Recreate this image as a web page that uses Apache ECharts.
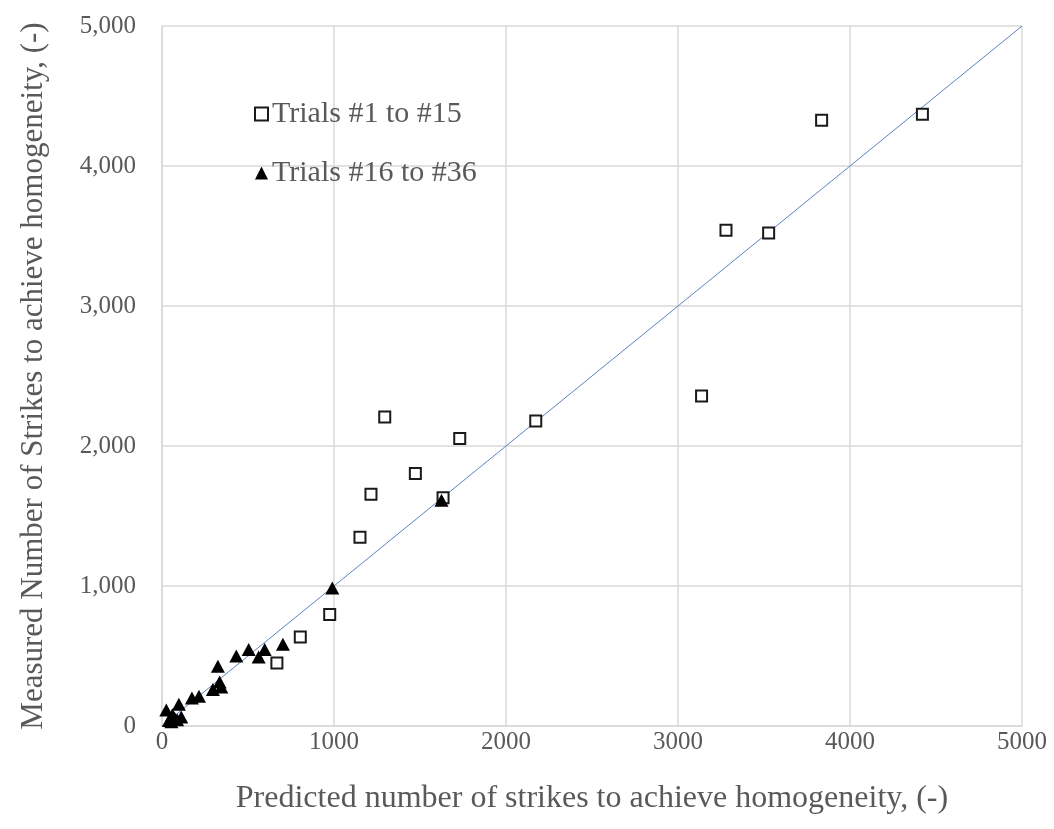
<!doctype html>
<html lang="en">
  <head>
    <meta charset="UTF-8" />
    <title>Strikes to achieve homogeneity</title>
    <script src="https://cdn.jsdelivr.net/npm/echarts@6/dist/echarts.min.js"></script>
    <style>
      html, body { margin: 0; padding: 0; background: #fff; }
      #chart { width: 1054px; height: 829px; }
    </style>
  </head>
  <body>
    <div id="chart"></div>
    <script>
      // Trials #1 to #15 : [predicted, measured]
      var trials1to15 = [
        [668, 450], [804, 636], [975, 796], [1151, 1348], [1215, 1655],
        [1295, 2207], [1473, 1803], [1634, 1631], [1731, 2053], [2173, 2179],
        [3137, 2357], [3279, 3541], [3527, 3521], [3835, 4326], [4421, 4369]
      ];

      // Trials #16 to #36 : [predicted, measured]
      var trials16to36 = [
        [25, 115], [40, 40], [55, 30], [60, 80], [73, 58], [88, 45],
        [98, 155], [112, 64], [174, 200], [215, 212], [296, 260],
        [325, 426], [335, 314], [345, 279], [432, 500], [504, 546],
        [562, 493], [597, 546], [703, 584], [990, 985], [1625, 1612]
      ];

      // 1:1 reference line
      var unityLine = [[0, 0], [5000, 5000]];

      var xTicks = [0, 1000, 2000, 3000, 4000, 5000];
      var yTicks = [0, 1000, 2000, 3000, 4000, 5000];

      var font = 'Liberation Serif';
      var textGrey = '#595959';
      var gridGrey = '#d9d9d9';

      var chart = echarts.init(document.getElementById('chart'), null, { renderer: 'canvas' });

      chart.setOption({
        backgroundColor: '#ffffff',
        animation: false,
        grid: {
          left: 162, right: 32, top: 26, bottom: 103,
          containLabel: false, outerBoundsMode: 'none'
        },
        legend: {
          left: 249,
          top: 94,
          orient: 'vertical',
          itemGap: 29,
          itemWidth: 13,
          itemHeight: 13,
          textStyle: { fontFamily: font, fontSize: 30, color: textGrey, padding: [0, 0, 0, -1] },
          data: ['Trials #1 to #15', 'Trials #16 to #36']
        },
        xAxis: {
          type: 'value',
          min: xTicks[0],
          max: xTicks[xTicks.length - 1],
          interval: 1000,
          name: 'Predicted number of strikes to achieve homogeneity, (-)',
          nameLocation: 'middle',
          nameGap: 57,
          nameTextStyle: { fontFamily: font, fontSize: 32, color: textGrey },
          axisLine: { show: true, lineStyle: { color: gridGrey, width: 1.5 } },
          axisTick: { show: false },
          axisLabel: {
            fontFamily: font, fontSize: 25, color: textGrey, margin: 4,
            formatter: function (v) { return String(v); }
          },
          splitLine: { show: true, lineStyle: { color: gridGrey, width: 1.5 } }
        },
        yAxis: {
          type: 'value',
          min: yTicks[0],
          max: yTicks[yTicks.length - 1],
          interval: 1000,
          name: 'Measured Number of Strikes to achieve homogeneity, (-)',
          nameLocation: 'middle',
          nameGap: 113,
          nameTextStyle: { fontFamily: font, fontSize: 31, color: textGrey },
          axisLine: { show: true, lineStyle: { color: gridGrey, width: 1.5 } },
          axisTick: { show: false },
          axisLabel: {
            fontFamily: font, fontSize: 25, color: textGrey, margin: 26,
            formatter: function (v) { return v.toLocaleString('en-US'); }
          },
          splitLine: { show: true, lineStyle: { color: gridGrey, width: 1.5 } }
        },
        series: [
          {
            name: '1:1',
            type: 'line',
            data: unityLine,
            symbol: 'none',
            silent: true,
            lineStyle: { color: '#5b82c4', width: 1 },
            z: 1
          },
          {
            name: 'Trials #1 to #15',
            type: 'scatter',
            data: trials1to15,
            symbol: 'rect',
            symbolSize: 11,
            itemStyle: { color: '#ffffff', borderColor: '#1a1a1a', borderWidth: 2, opacity: 1 },
            z: 3
          },
          {
            name: 'Trials #16 to #36',
            type: 'scatter',
            data: trials16to36,
            symbol: 'triangle',
            symbolSize: [14, 13],
            itemStyle: { color: '#000000', opacity: 1 },
            z: 4
          }
        ]
      });
    </script>
  </body>
</html>
